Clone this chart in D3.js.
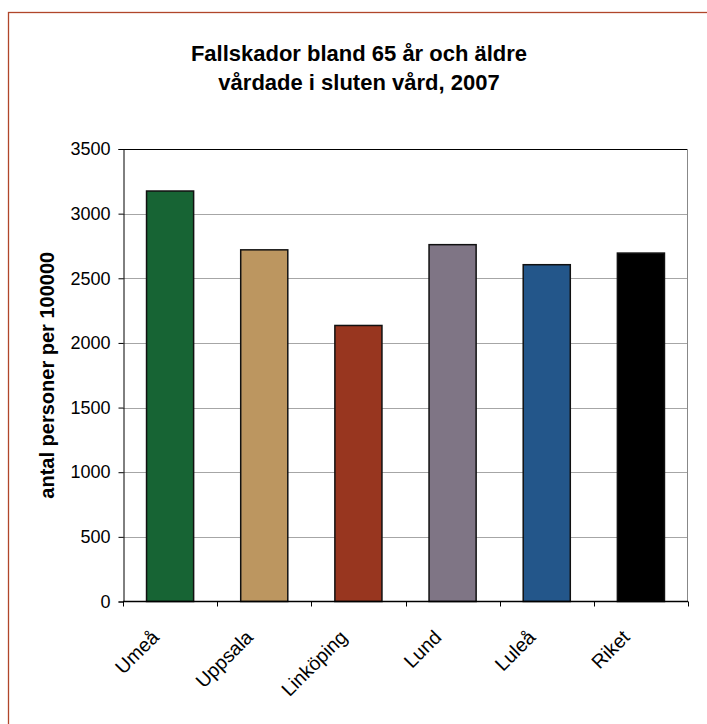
<!DOCTYPE html>
<html>
<head>
<meta charset="utf-8">
<script src="https://cdn.jsdelivr.net/npm/d3@7"></script>
<style>
  html, body { margin: 0; padding: 0; background: #fff; }
  svg { display: block; font-family: "Liberation Sans", Arial, sans-serif; }
</style>
</head>
<body>
<svg id="chart" width="707" height="724"></svg>
<script>
// Fallskador bland 65 år och äldre, vårdade i sluten vård 2007
const categories = ["Umeå", "Uppsala", "Linköping", "Lund", "Luleå", "Riket"];
const values = [3175, 2720, 2135, 2760, 2605, 2695];
const barColors = ["#176434", "#bc9660", "#98361f", "#7f7585", "#23568a", "#000000"];
const yTicks = [0, 500, 1000, 1500, 2000, 2500, 3000, 3500];
const titleLines = ["Fallskador bland 65 år och äldre", "vårdade i sluten vård, 2007"];
const yLabel = "antal personer per 100000";

const svg = d3.select("#chart");

// chart area frame
svg.append("rect")
  .attr("x", 8.5).attr("y", 12.5)
  .attr("width", 740).attr("height", 760)
  .attr("fill", "#fff")
  .attr("stroke", "#b0462a")
  .attr("stroke-width", 1.3);

const plot = { left: 123, right: 688, top: 149, bottom: 601.5 };

const x = d3.scaleBand()
  .domain(categories)
  .range([plot.left, plot.right])
  .paddingInner(0.5)
  .paddingOuter(0.25);

const xBand = d3.scaleBand()
  .domain(categories)
  .range([plot.left, plot.right]);

const y = d3.scaleLinear()
  .domain([0, 3500])
  .range([plot.bottom, plot.top]);

// gridlines
svg.append("g")
  .selectAll("line")
  .data(yTicks.filter(d => d > 0 && d < 3500))
  .join("line")
  .attr("x1", plot.left).attr("x2", plot.right)
  .attr("y1", d => Math.round(y(d)) + 0.5)
  .attr("y2", d => Math.round(y(d)) + 0.5)
  .attr("stroke", "#a6a6a6")
  .attr("stroke-width", 1);

// plot area top and right edges
svg.append("line")
  .attr("x1", plot.left).attr("x2", plot.right)
  .attr("y1", plot.top + 0.5).attr("y2", plot.top + 0.5)
  .attr("stroke", "#000");
svg.append("line")
  .attr("x1", plot.right - 0.5).attr("x2", plot.right - 0.5)
  .attr("y1", plot.top).attr("y2", plot.bottom)
  .attr("stroke", "#888");

// bars
svg.append("g")
  .selectAll("rect")
  .data(categories.map((c, i) => ({ c, v: values[i], col: barColors[i] })))
  .join("rect")
  .attr("x", d => x(d.c))
  .attr("y", d => y(d.v))
  .attr("width", x.bandwidth())
  .attr("height", d => y(0) - y(d.v))
  .attr("fill", d => d.col)
  .attr("stroke", "#111")
  .attr("stroke-width", 1.5);

// y axis
const yAxis = d3.axisLeft(y)
  .tickValues(yTicks)
  .tickSize(5)
  .tickPadding(8)
  .tickFormat(d3.format("d"));
const gy = svg.append("g")
  .attr("transform", `translate(${plot.left + 0.5},0)`)
  .call(yAxis);
gy.select(".domain").attr("stroke", "#000");
gy.selectAll(".tick line").attr("stroke", "#000");
gy.selectAll(".tick text")
  .attr("font-size", 18)
  .attr("fill", "#000")
  .attr("font-family", "Liberation Sans, Arial, sans-serif");

// x axis: ticks at category boundaries
const gx = svg.append("g")
  .attr("transform", `translate(0,${plot.bottom})`);
gx.append("line")
  .attr("x1", plot.left).attr("x2", plot.right)
  .attr("y1", 0).attr("y2", 0)
  .attr("stroke", "#000").attr("stroke-width", 1.5);
const boundaries = categories.map(c => xBand(c)).concat([plot.right - 0.5]);
gx.selectAll("line.tk")
  .data(boundaries)
  .join("line")
  .attr("class", "tk")
  .attr("x1", d => Math.round(d) + 0.5).attr("x2", d => Math.round(d) + 0.5)
  .attr("y1", 0).attr("y2", 5)
  .attr("stroke", "#000");

gx.selectAll("text")
  .data(categories)
  .join("text")
  .attr("transform", d => {
    const cx = xBand(d) + xBand.bandwidth() / 2 - 10;
    return `translate(${cx},37) rotate(-45)`;
  })
  .attr("text-anchor", "end")
  .attr("font-size", 19.5)
  .attr("fill", "#000")
  .text(d => d);

// title
svg.append("g")
  .selectAll("text")
  .data(titleLines)
  .join("text")
  .attr("x", 359)
  .attr("y", (d, i) => 61 + i * 28.5)
  .attr("text-anchor", "middle")
  .attr("font-size", 22)
  .attr("font-weight", "bold")
  .attr("fill", "#000")
  .text(d => d);

// y axis title
svg.append("text")
  .attr("transform", `translate(54,${(plot.top + plot.bottom) / 2}) rotate(-90)`)
  .attr("text-anchor", "middle")
  .attr("font-size", 20)
  .attr("font-weight", "bold")
  .attr("fill", "#000")
  .text(yLabel);
</script>
</body>
</html>
